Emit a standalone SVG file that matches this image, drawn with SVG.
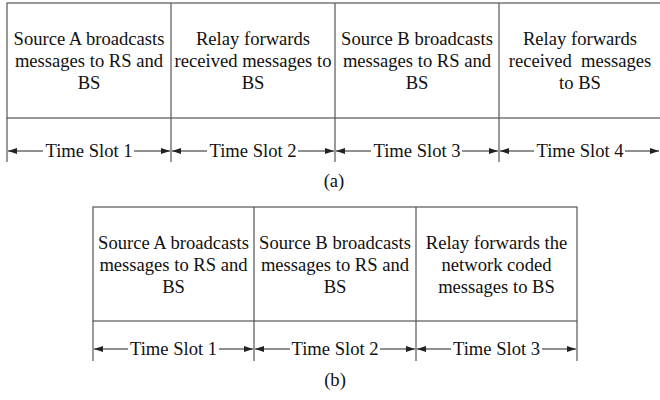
<svg xmlns="http://www.w3.org/2000/svg" width="660" height="400" viewBox="0 0 660 400">
  <style>
    .frame { fill: none; stroke: #555; stroke-width: 1.2; }
    .lbl { font-family: "Liberation Serif", "Times New Roman", serif; font-size: 18.6px; fill: #111; text-anchor: middle; }
    .span { stroke: #222; stroke-width: 1.1; fill: none; marker-end: url(#head); }
  </style>
  <defs>
    <marker id="head" viewBox="0 0 9 6" refX="9" refY="3" markerWidth="9" markerHeight="6" markerUnits="userSpaceOnUse" orient="auto">
      <path d="M0,0 L9,3 L0,6 Z" fill="#222"/>
    </marker>
  </defs>

  <!-- (a) four-slot scheme -->
  <g id="frame-a">
    <rect class="frame" x="7" y="3" width="656" height="115"/>
    <line class="frame" x1="7" y1="118" x2="7" y2="162"/>
    <line class="frame" x1="171" y1="3" x2="171" y2="162"/>
    <line class="frame" x1="335" y1="3" x2="335" y2="162"/>
    <line class="frame" x1="499" y1="3" x2="499" y2="162"/>
  </g>
  <g id="a-slot1">
    <text class="lbl" x="89" y="45">Source A broadcasts</text>
    <text class="lbl" x="89" y="67">messages to RS and</text>
    <text class="lbl" x="89" y="89">BS</text>
  </g>
  <g id="a-slot2">
    <text class="lbl" x="253" y="45">Relay forwards</text>
    <text class="lbl" x="253" y="67">received messages to</text>
    <text class="lbl" x="253" y="89">BS</text>
  </g>
  <g id="a-slot3">
    <text class="lbl" x="417" y="45">Source B broadcasts</text>
    <text class="lbl" x="417" y="67">messages to RS and</text>
    <text class="lbl" x="417" y="89">BS</text>
  </g>
  <g id="a-slot4">
    <text class="lbl" x="580" y="45">Relay forwards</text>
    <text class="lbl" x="580" y="67" xml:space="preserve">received  messages</text>
    <text class="lbl" x="580" y="89">to BS</text>
  </g>
  <g id="a-times">
    <text class="lbl" x="89" y="157">Time Slot 1</text>
    <text class="lbl" x="253" y="157">Time Slot 2</text>
    <text class="lbl" x="417" y="157">Time Slot 3</text>
    <text class="lbl" x="580" y="157">Time Slot 4</text>
  </g>
  <text id="cap-a" class="lbl" x="334" y="187">(a)</text>

  <!-- (b) three-slot network-coded scheme -->
  <g id="frame-b">
    <rect class="frame" x="93" y="207" width="484" height="114"/>
    <line class="frame" x1="93" y1="321" x2="93" y2="361"/>
    <line class="frame" x1="254" y1="207" x2="254" y2="361"/>
    <line class="frame" x1="416" y1="207" x2="416" y2="361"/>
    <line class="frame" x1="577" y1="321" x2="577" y2="361"/>
  </g>
  <g id="b-slot1">
    <text class="lbl" x="173.5" y="249">Source A broadcasts</text>
    <text class="lbl" x="173.5" y="271">messages to RS and</text>
    <text class="lbl" x="173.5" y="293">BS</text>
  </g>
  <g id="b-slot2">
    <text class="lbl" x="335" y="249">Source B broadcasts</text>
    <text class="lbl" x="335" y="271">messages to RS and</text>
    <text class="lbl" x="335" y="293">BS</text>
  </g>
  <g id="b-slot3">
    <text class="lbl" x="496.5" y="249">Relay forwards the</text>
    <text class="lbl" x="496.5" y="271">network coded</text>
    <text class="lbl" x="496.5" y="293">messages to BS</text>
  </g>
  <g id="b-times">
    <text class="lbl" x="173.5" y="355">Time Slot 1</text>
    <text class="lbl" x="335" y="355">Time Slot 2</text>
    <text class="lbl" x="496.5" y="355">Time Slot 3</text>
  </g>
  <text id="cap-b" class="lbl" x="335" y="386">(b)</text>

  <!-- duration arrows -->
  <g id="connectors">
    <line class="span" x1="43" y1="151" x2="8" y2="151"/>
    <line class="span" x1="134" y1="151" x2="170" y2="151"/>
    <line class="span" x1="207" y1="151" x2="172" y2="151"/>
    <line class="span" x1="298" y1="151" x2="334" y2="151"/>
    <line class="span" x1="371" y1="151" x2="336" y2="151"/>
    <line class="span" x1="462" y1="151" x2="498" y2="151"/>
    <line class="span" x1="534" y1="151" x2="500" y2="151"/>
    <line class="span" x1="625" y1="151" x2="659" y2="151"/>

    <line class="span" x1="128" y1="349" x2="94" y2="349"/>
    <line class="span" x1="219" y1="349" x2="253" y2="349"/>
    <line class="span" x1="290" y1="349" x2="255" y2="349"/>
    <line class="span" x1="380" y1="349" x2="415" y2="349"/>
    <line class="span" x1="451" y1="349" x2="417" y2="349"/>
    <line class="span" x1="542" y1="349" x2="576" y2="349"/>
  </g>
</svg>
